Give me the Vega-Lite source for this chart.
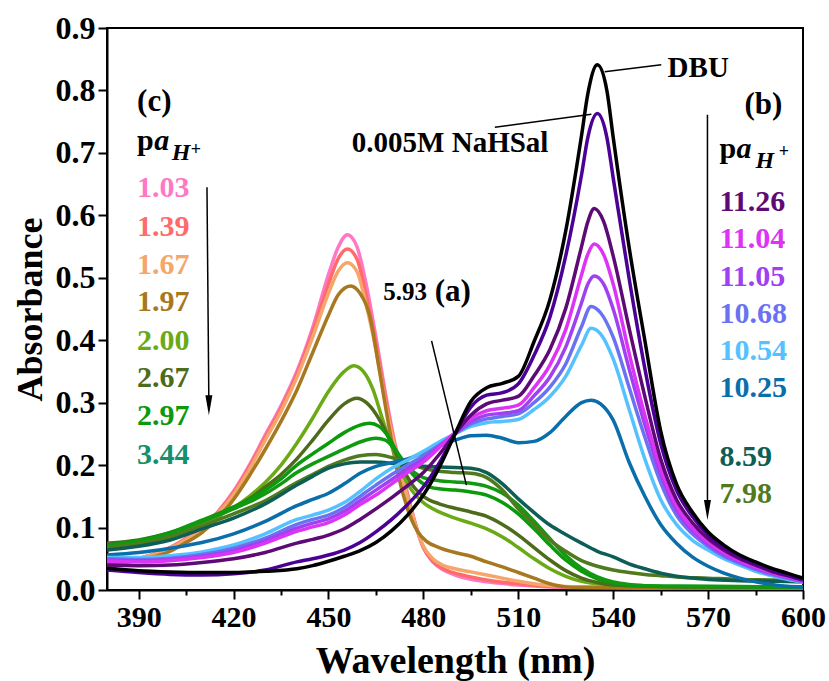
{
"$schema":"https://vega.github.io/schema/vega-lite/v6.json",
"width":696,"height":562,"autosize":"none",
"padding":{"left":107,"top":28,"right":26,"bottom":91},
"background":"white",
"config":{"view":{"stroke":"black","strokeWidth":2},"font":"Times New Roman, Liberation Serif, serif","text":{"font":"Times New Roman, Liberation Serif, serif"}},
"datasets":{
"curves":[
{"s":"1.03","w":380,"a":0.038},{"s":"1.03","w":390,"a":0.05},{"s":"1.03","w":400,"a":0.068},{"s":"1.03","w":405,"a":0.083},{"s":"1.03","w":410,"a":0.1},{"s":"1.03","w":415,"a":0.125},{"s":"1.03","w":420,"a":0.158},{"s":"1.03","w":425,"a":0.2},{"s":"1.03","w":430,"a":0.248},{"s":"1.03","w":435,"a":0.295},{"s":"1.03","w":440,"a":0.35},{"s":"1.03","w":445,"a":0.42},{"s":"1.03","w":450,"a":0.505},{"s":"1.03","w":453,"a":0.548},{"s":"1.03","w":456,"a":0.569},{"s":"1.03","w":459,"a":0.55},{"s":"1.03","w":462,"a":0.488},{"s":"1.03","w":465,"a":0.405},{"s":"1.03","w":468,"a":0.315},{"s":"1.03","w":471,"a":0.235},{"s":"1.03","w":474,"a":0.175},{"s":"1.03","w":477,"a":0.115},{"s":"1.03","w":480,"a":0.068},{"s":"1.03","w":483,"a":0.045},{"s":"1.03","w":486,"a":0.033},{"s":"1.03","w":490,"a":0.024},{"s":"1.03","w":495,"a":0.017},{"s":"1.03","w":500,"a":0.013},{"s":"1.03","w":510,"a":0.008},{"s":"1.03","w":520,"a":0.005},{"s":"1.03","w":530,"a":0.004},{"s":"1.03","w":560,"a":0.003},{"s":"1.03","w":600,"a":0.003},
{"s":"1.39","w":380,"a":0.039},{"s":"1.39","w":390,"a":0.05},{"s":"1.39","w":400,"a":0.068},{"s":"1.39","w":405,"a":0.082},{"s":"1.39","w":410,"a":0.099},{"s":"1.39","w":415,"a":0.124},{"s":"1.39","w":420,"a":0.156},{"s":"1.39","w":425,"a":0.197},{"s":"1.39","w":430,"a":0.244},{"s":"1.39","w":435,"a":0.291},{"s":"1.39","w":440,"a":0.345},{"s":"1.39","w":445,"a":0.413},{"s":"1.39","w":450,"a":0.49},{"s":"1.39","w":453,"a":0.53},{"s":"1.39","w":456,"a":0.546},{"s":"1.39","w":459,"a":0.53},{"s":"1.39","w":462,"a":0.47},{"s":"1.39","w":465,"a":0.395},{"s":"1.39","w":468,"a":0.308},{"s":"1.39","w":471,"a":0.231},{"s":"1.39","w":474,"a":0.171},{"s":"1.39","w":477,"a":0.113},{"s":"1.39","w":480,"a":0.068},{"s":"1.39","w":483,"a":0.046},{"s":"1.39","w":486,"a":0.035},{"s":"1.39","w":490,"a":0.027},{"s":"1.39","w":495,"a":0.021},{"s":"1.39","w":500,"a":0.016},{"s":"1.39","w":510,"a":0.01},{"s":"1.39","w":520,"a":0.006},{"s":"1.39","w":530,"a":0.005},{"s":"1.39","w":560,"a":0.004},{"s":"1.39","w":600,"a":0.004},
{"s":"1.67","w":380,"a":0.04},{"s":"1.67","w":390,"a":0.05},{"s":"1.67","w":400,"a":0.067},{"s":"1.67","w":405,"a":0.081},{"s":"1.67","w":410,"a":0.098},{"s":"1.67","w":415,"a":0.122},{"s":"1.67","w":420,"a":0.153},{"s":"1.67","w":425,"a":0.193},{"s":"1.67","w":430,"a":0.24},{"s":"1.67","w":435,"a":0.286},{"s":"1.67","w":440,"a":0.34},{"s":"1.67","w":445,"a":0.405},{"s":"1.67","w":450,"a":0.475},{"s":"1.67","w":453,"a":0.51},{"s":"1.67","w":456,"a":0.524},{"s":"1.67","w":459,"a":0.51},{"s":"1.67","w":462,"a":0.455},{"s":"1.67","w":465,"a":0.385},{"s":"1.67","w":468,"a":0.3},{"s":"1.67","w":471,"a":0.228},{"s":"1.67","w":474,"a":0.168},{"s":"1.67","w":477,"a":0.112},{"s":"1.67","w":480,"a":0.07},{"s":"1.67","w":483,"a":0.05},{"s":"1.67","w":486,"a":0.04},{"s":"1.67","w":490,"a":0.034},{"s":"1.67","w":495,"a":0.029},{"s":"1.67","w":500,"a":0.024},{"s":"1.67","w":505,"a":0.019},{"s":"1.67","w":510,"a":0.014},{"s":"1.67","w":515,"a":0.01},{"s":"1.67","w":520,"a":0.007},{"s":"1.67","w":530,"a":0.005},{"s":"1.67","w":560,"a":0.004},{"s":"1.67","w":600,"a":0.004},
{"s":"1.97","w":380,"a":0.04},{"s":"1.97","w":390,"a":0.048},{"s":"1.97","w":400,"a":0.062},{"s":"1.97","w":405,"a":0.076},{"s":"1.97","w":410,"a":0.092},{"s":"1.97","w":415,"a":0.115},{"s":"1.97","w":420,"a":0.145},{"s":"1.97","w":425,"a":0.183},{"s":"1.97","w":430,"a":0.225},{"s":"1.97","w":435,"a":0.27},{"s":"1.97","w":440,"a":0.32},{"s":"1.97","w":445,"a":0.38},{"s":"1.97","w":450,"a":0.44},{"s":"1.97","w":453,"a":0.472},{"s":"1.97","w":457,"a":0.487},{"s":"1.97","w":460,"a":0.475},{"s":"1.97","w":463,"a":0.44},{"s":"1.97","w":466,"a":0.355},{"s":"1.97","w":469,"a":0.265},{"s":"1.97","w":472,"a":0.185},{"s":"1.97","w":475,"a":0.13},{"s":"1.97","w":478,"a":0.095},{"s":"1.97","w":481,"a":0.078},{"s":"1.97","w":485,"a":0.068},{"s":"1.97","w":490,"a":0.06},{"s":"1.97","w":495,"a":0.054},{"s":"1.97","w":500,"a":0.045},{"s":"1.97","w":505,"a":0.037},{"s":"1.97","w":510,"a":0.028},{"s":"1.97","w":515,"a":0.019},{"s":"1.97","w":520,"a":0.01},{"s":"1.97","w":525,"a":0.005},{"s":"1.97","w":530,"a":0.004},{"s":"1.97","w":560,"a":0.003},{"s":"1.97","w":600,"a":0.003},
{"s":"2.00","w":380,"a":0.066},{"s":"2.00","w":390,"a":0.075},{"s":"2.00","w":400,"a":0.088},{"s":"2.00","w":410,"a":0.107},{"s":"2.00","w":415,"a":0.118},{"s":"2.00","w":420,"a":0.132},{"s":"2.00","w":425,"a":0.15},{"s":"2.00","w":430,"a":0.172},{"s":"2.00","w":435,"a":0.2},{"s":"2.00","w":440,"a":0.235},{"s":"2.00","w":445,"a":0.275},{"s":"2.00","w":450,"a":0.318},{"s":"2.00","w":455,"a":0.35},{"s":"2.00","w":458,"a":0.359},{"s":"2.00","w":461,"a":0.35},{"s":"2.00","w":464,"a":0.322},{"s":"2.00","w":467,"a":0.275},{"s":"2.00","w":470,"a":0.23},{"s":"2.00","w":473,"a":0.19},{"s":"2.00","w":476,"a":0.162},{"s":"2.00","w":480,"a":0.14},{"s":"2.00","w":485,"a":0.125},{"s":"2.00","w":490,"a":0.115},{"s":"2.00","w":495,"a":0.107},{"s":"2.00","w":500,"a":0.098},{"s":"2.00","w":505,"a":0.085},{"s":"2.00","w":510,"a":0.068},{"s":"2.00","w":515,"a":0.05},{"s":"2.00","w":520,"a":0.034},{"s":"2.00","w":525,"a":0.022},{"s":"2.00","w":530,"a":0.014},{"s":"2.00","w":540,"a":0.008},{"s":"2.00","w":550,"a":0.006},{"s":"2.00","w":560,"a":0.005},{"s":"2.00","w":600,"a":0.005},
{"s":"2.67","w":380,"a":0.075},{"s":"2.67","w":390,"a":0.08},{"s":"2.67","w":400,"a":0.092},{"s":"2.67","w":410,"a":0.11},{"s":"2.67","w":415,"a":0.12},{"s":"2.67","w":420,"a":0.132},{"s":"2.67","w":425,"a":0.146},{"s":"2.67","w":430,"a":0.165},{"s":"2.67","w":435,"a":0.185},{"s":"2.67","w":440,"a":0.21},{"s":"2.67","w":445,"a":0.24},{"s":"2.67","w":450,"a":0.272},{"s":"2.67","w":455,"a":0.298},{"s":"2.67","w":459,"a":0.307},{"s":"2.67","w":462,"a":0.3},{"s":"2.67","w":465,"a":0.282},{"s":"2.67","w":468,"a":0.255},{"s":"2.67","w":471,"a":0.222},{"s":"2.67","w":474,"a":0.19},{"s":"2.67","w":477,"a":0.165},{"s":"2.67","w":480,"a":0.15},{"s":"2.67","w":485,"a":0.138},{"s":"2.67","w":490,"a":0.131},{"s":"2.67","w":495,"a":0.125},{"s":"2.67","w":500,"a":0.118},{"s":"2.67","w":505,"a":0.105},{"s":"2.67","w":510,"a":0.088},{"s":"2.67","w":515,"a":0.068},{"s":"2.67","w":520,"a":0.048},{"s":"2.67","w":525,"a":0.031},{"s":"2.67","w":530,"a":0.019},{"s":"2.67","w":535,"a":0.012},{"s":"2.67","w":540,"a":0.008},{"s":"2.67","w":550,"a":0.006},{"s":"2.67","w":560,"a":0.005},{"s":"2.67","w":600,"a":0.005},
{"s":"2.97","w":380,"a":0.072},{"s":"2.97","w":390,"a":0.079},{"s":"2.97","w":400,"a":0.092},{"s":"2.97","w":410,"a":0.112},{"s":"2.97","w":415,"a":0.122},{"s":"2.97","w":420,"a":0.133},{"s":"2.97","w":425,"a":0.145},{"s":"2.97","w":430,"a":0.16},{"s":"2.97","w":435,"a":0.178},{"s":"2.97","w":440,"a":0.2},{"s":"2.97","w":445,"a":0.218},{"s":"2.97","w":450,"a":0.235},{"s":"2.97","w":455,"a":0.252},{"s":"2.97","w":460,"a":0.264},{"s":"2.97","w":463,"a":0.267},{"s":"2.97","w":466,"a":0.262},{"s":"2.97","w":469,"a":0.245},{"s":"2.97","w":472,"a":0.218},{"s":"2.97","w":475,"a":0.195},{"s":"2.97","w":478,"a":0.178},{"s":"2.97","w":481,"a":0.167},{"s":"2.97","w":485,"a":0.162},{"s":"2.97","w":490,"a":0.16},{"s":"2.97","w":495,"a":0.157},{"s":"2.97","w":500,"a":0.152},{"s":"2.97","w":505,"a":0.14},{"s":"2.97","w":510,"a":0.122},{"s":"2.97","w":515,"a":0.098},{"s":"2.97","w":520,"a":0.072},{"s":"2.97","w":525,"a":0.048},{"s":"2.97","w":530,"a":0.03},{"s":"2.97","w":535,"a":0.018},{"s":"2.97","w":540,"a":0.011},{"s":"2.97","w":545,"a":0.008},{"s":"2.97","w":550,"a":0.007},{"s":"2.97","w":560,"a":0.006},{"s":"2.97","w":600,"a":0.005},
{"s":"5.93","w":380,"a":0.07},{"s":"5.93","w":390,"a":0.077},{"s":"5.93","w":400,"a":0.09},{"s":"5.93","w":410,"a":0.11},{"s":"5.93","w":415,"a":0.12},{"s":"5.93","w":420,"a":0.13},{"s":"5.93","w":425,"a":0.141},{"s":"5.93","w":430,"a":0.154},{"s":"5.93","w":435,"a":0.17},{"s":"5.93","w":440,"a":0.188},{"s":"5.93","w":445,"a":0.202},{"s":"5.93","w":450,"a":0.214},{"s":"5.93","w":455,"a":0.226},{"s":"5.93","w":460,"a":0.237},{"s":"5.93","w":465,"a":0.243},{"s":"5.93","w":468,"a":0.24},{"s":"5.93","w":471,"a":0.225},{"s":"5.93","w":474,"a":0.205},{"s":"5.93","w":477,"a":0.189},{"s":"5.93","w":480,"a":0.18},{"s":"5.93","w":485,"a":0.175},{"s":"5.93","w":490,"a":0.173},{"s":"5.93","w":495,"a":0.171},{"s":"5.93","w":500,"a":0.166},{"s":"5.93","w":505,"a":0.155},{"s":"5.93","w":510,"a":0.136},{"s":"5.93","w":515,"a":0.11},{"s":"5.93","w":520,"a":0.082},{"s":"5.93","w":525,"a":0.055},{"s":"5.93","w":530,"a":0.035},{"s":"5.93","w":535,"a":0.021},{"s":"5.93","w":540,"a":0.013},{"s":"5.93","w":545,"a":0.009},{"s":"5.93","w":550,"a":0.007},{"s":"5.93","w":560,"a":0.006},{"s":"5.93","w":600,"a":0.005},
{"s":"7.98","w":380,"a":0.068},{"s":"7.98","w":390,"a":0.074},{"s":"7.98","w":400,"a":0.085},{"s":"7.98","w":410,"a":0.103},{"s":"7.98","w":420,"a":0.122},{"s":"7.98","w":430,"a":0.143},{"s":"7.98","w":440,"a":0.172},{"s":"7.98","w":445,"a":0.185},{"s":"7.98","w":450,"a":0.198},{"s":"7.98","w":455,"a":0.208},{"s":"7.98","w":460,"a":0.215},{"s":"7.98","w":465,"a":0.217},{"s":"7.98","w":470,"a":0.212},{"s":"7.98","w":475,"a":0.203},{"s":"7.98","w":480,"a":0.195},{"s":"7.98","w":485,"a":0.19},{"s":"7.98","w":490,"a":0.188},{"s":"7.98","w":495,"a":0.187},{"s":"7.98","w":500,"a":0.18},{"s":"7.98","w":505,"a":0.16},{"s":"7.98","w":510,"a":0.13},{"s":"7.98","w":515,"a":0.105},{"s":"7.98","w":520,"a":0.08},{"s":"7.98","w":525,"a":0.062},{"s":"7.98","w":530,"a":0.047},{"s":"7.98","w":535,"a":0.038},{"s":"7.98","w":540,"a":0.032},{"s":"7.98","w":545,"a":0.028},{"s":"7.98","w":550,"a":0.025},{"s":"7.98","w":555,"a":0.023},{"s":"7.98","w":560,"a":0.021},{"s":"7.98","w":570,"a":0.019},{"s":"7.98","w":580,"a":0.017},{"s":"7.98","w":590,"a":0.016},{"s":"7.98","w":600,"a":0.015},
{"s":"8.59","w":380,"a":0.064},{"s":"8.59","w":390,"a":0.07},{"s":"8.59","w":400,"a":0.08},{"s":"8.59","w":410,"a":0.098},{"s":"8.59","w":420,"a":0.115},{"s":"8.59","w":430,"a":0.138},{"s":"8.59","w":440,"a":0.168},{"s":"8.59","w":445,"a":0.182},{"s":"8.59","w":450,"a":0.195},{"s":"8.59","w":455,"a":0.202},{"s":"8.59","w":460,"a":0.205},{"s":"8.59","w":465,"a":0.205},{"s":"8.59","w":470,"a":0.203},{"s":"8.59","w":475,"a":0.2},{"s":"8.59","w":480,"a":0.198},{"s":"8.59","w":485,"a":0.197},{"s":"8.59","w":490,"a":0.196},{"s":"8.59","w":495,"a":0.195},{"s":"8.59","w":500,"a":0.188},{"s":"8.59","w":505,"a":0.17},{"s":"8.59","w":510,"a":0.146},{"s":"8.59","w":515,"a":0.124},{"s":"8.59","w":520,"a":0.104},{"s":"8.59","w":525,"a":0.089},{"s":"8.59","w":530,"a":0.075},{"s":"8.59","w":535,"a":0.062},{"s":"8.59","w":540,"a":0.053},{"s":"8.59","w":545,"a":0.042},{"s":"8.59","w":550,"a":0.034},{"s":"8.59","w":555,"a":0.027},{"s":"8.59","w":560,"a":0.022},{"s":"8.59","w":570,"a":0.017},{"s":"8.59","w":580,"a":0.015},{"s":"8.59","w":590,"a":0.014},{"s":"8.59","w":600,"a":0.013},
{"s":"10.25","w":380,"a":0.056},{"s":"10.25","w":390,"a":0.06},{"s":"10.25","w":400,"a":0.067},{"s":"10.25","w":410,"a":0.076},{"s":"10.25","w":420,"a":0.09},{"s":"10.25","w":430,"a":0.11},{"s":"10.25","w":440,"a":0.135},{"s":"10.25","w":445,"a":0.145},{"s":"10.25","w":450,"a":0.155},{"s":"10.25","w":455,"a":0.17},{"s":"10.25","w":460,"a":0.187},{"s":"10.25","w":465,"a":0.198},{"s":"10.25","w":470,"a":0.204},{"s":"10.25","w":475,"a":0.21},{"s":"10.25","w":480,"a":0.22},{"s":"10.25","w":485,"a":0.231},{"s":"10.25","w":490,"a":0.24},{"s":"10.25","w":495,"a":0.247},{"s":"10.25","w":500,"a":0.248},{"s":"10.25","w":505,"a":0.243},{"s":"10.25","w":510,"a":0.236},{"s":"10.25","w":515,"a":0.238},{"s":"10.25","w":520,"a":0.252},{"s":"10.25","w":525,"a":0.278},{"s":"10.25","w":530,"a":0.3},{"s":"10.25","w":533,"a":0.304},{"s":"10.25","w":536,"a":0.298},{"s":"10.25","w":540,"a":0.272},{"s":"10.25","w":545,"a":0.205},{"s":"10.25","w":550,"a":0.15},{"s":"10.25","w":555,"a":0.105},{"s":"10.25","w":560,"a":0.075},{"s":"10.25","w":565,"a":0.053},{"s":"10.25","w":570,"a":0.038},{"s":"10.25","w":575,"a":0.027},{"s":"10.25","w":580,"a":0.019},{"s":"10.25","w":585,"a":0.013},{"s":"10.25","w":590,"a":0.009},{"s":"10.25","w":595,"a":0.006},{"s":"10.25","w":600,"a":0.005},
{"s":"10.54","w":380,"a":0.052},{"s":"10.54","w":390,"a":0.052},{"s":"10.54","w":400,"a":0.055},{"s":"10.54","w":410,"a":0.061},{"s":"10.54","w":420,"a":0.072},{"s":"10.54","w":430,"a":0.09},{"s":"10.54","w":440,"a":0.113},{"s":"10.54","w":445,"a":0.12},{"s":"10.54","w":450,"a":0.128},{"s":"10.54","w":455,"a":0.14},{"s":"10.54","w":460,"a":0.158},{"s":"10.54","w":465,"a":0.178},{"s":"10.54","w":470,"a":0.195},{"s":"10.54","w":475,"a":0.208},{"s":"10.54","w":480,"a":0.222},{"s":"10.54","w":485,"a":0.237},{"s":"10.54","w":490,"a":0.25},{"s":"10.54","w":495,"a":0.262},{"s":"10.54","w":500,"a":0.268},{"s":"10.54","w":505,"a":0.27},{"s":"10.54","w":510,"a":0.273},{"s":"10.54","w":515,"a":0.289},{"s":"10.54","w":520,"a":0.31},{"s":"10.54","w":525,"a":0.342},{"s":"10.54","w":530,"a":0.392},{"s":"10.54","w":533,"a":0.419},{"s":"10.54","w":536,"a":0.41},{"s":"10.54","w":540,"a":0.37},{"s":"10.54","w":545,"a":0.29},{"s":"10.54","w":550,"a":0.21},{"s":"10.54","w":555,"a":0.145},{"s":"10.54","w":560,"a":0.105},{"s":"10.54","w":565,"a":0.08},{"s":"10.54","w":570,"a":0.064},{"s":"10.54","w":575,"a":0.05},{"s":"10.54","w":580,"a":0.04},{"s":"10.54","w":585,"a":0.03},{"s":"10.54","w":590,"a":0.023},{"s":"10.54","w":595,"a":0.017},{"s":"10.54","w":600,"a":0.012},
{"s":"10.68","w":380,"a":0.05},{"s":"10.68","w":390,"a":0.049},{"s":"10.68","w":400,"a":0.051},{"s":"10.68","w":410,"a":0.057},{"s":"10.68","w":420,"a":0.067},{"s":"10.68","w":430,"a":0.083},{"s":"10.68","w":440,"a":0.105},{"s":"10.68","w":445,"a":0.113},{"s":"10.68","w":450,"a":0.12},{"s":"10.68","w":455,"a":0.132},{"s":"10.68","w":460,"a":0.15},{"s":"10.68","w":465,"a":0.168},{"s":"10.68","w":470,"a":0.185},{"s":"10.68","w":475,"a":0.2},{"s":"10.68","w":480,"a":0.215},{"s":"10.68","w":485,"a":0.232},{"s":"10.68","w":490,"a":0.25},{"s":"10.68","w":495,"a":0.266},{"s":"10.68","w":500,"a":0.274},{"s":"10.68","w":505,"a":0.278},{"s":"10.68","w":510,"a":0.282},{"s":"10.68","w":515,"a":0.3},{"s":"10.68","w":520,"a":0.325},{"s":"10.68","w":525,"a":0.362},{"s":"10.68","w":530,"a":0.422},{"s":"10.68","w":533,"a":0.454},{"s":"10.68","w":536,"a":0.444},{"s":"10.68","w":540,"a":0.405},{"s":"10.68","w":545,"a":0.325},{"s":"10.68","w":550,"a":0.245},{"s":"10.68","w":555,"a":0.172},{"s":"10.68","w":560,"a":0.12},{"s":"10.68","w":565,"a":0.09},{"s":"10.68","w":570,"a":0.07},{"s":"10.68","w":575,"a":0.054},{"s":"10.68","w":580,"a":0.043},{"s":"10.68","w":585,"a":0.033},{"s":"10.68","w":590,"a":0.025},{"s":"10.68","w":595,"a":0.019},{"s":"10.68","w":600,"a":0.013},
{"s":"11.05","w":380,"a":0.048},{"s":"11.05","w":390,"a":0.047},{"s":"11.05","w":400,"a":0.049},{"s":"11.05","w":410,"a":0.054},{"s":"11.05","w":420,"a":0.063},{"s":"11.05","w":430,"a":0.079},{"s":"11.05","w":440,"a":0.099},{"s":"11.05","w":445,"a":0.107},{"s":"11.05","w":450,"a":0.114},{"s":"11.05","w":455,"a":0.126},{"s":"11.05","w":460,"a":0.143},{"s":"11.05","w":465,"a":0.16},{"s":"11.05","w":470,"a":0.177},{"s":"11.05","w":475,"a":0.194},{"s":"11.05","w":480,"a":0.21},{"s":"11.05","w":485,"a":0.23},{"s":"11.05","w":490,"a":0.251},{"s":"11.05","w":495,"a":0.27},{"s":"11.05","w":500,"a":0.28},{"s":"11.05","w":505,"a":0.283},{"s":"11.05","w":510,"a":0.287},{"s":"11.05","w":515,"a":0.311},{"s":"11.05","w":520,"a":0.341},{"s":"11.05","w":525,"a":0.389},{"s":"11.05","w":530,"a":0.46},{"s":"11.05","w":532,"a":0.49},{"s":"11.05","w":534,"a":0.503},{"s":"11.05","w":537,"a":0.49},{"s":"11.05","w":540,"a":0.45},{"s":"11.05","w":545,"a":0.355},{"s":"11.05","w":550,"a":0.265},{"s":"11.05","w":555,"a":0.185},{"s":"11.05","w":560,"a":0.128},{"s":"11.05","w":565,"a":0.095},{"s":"11.05","w":570,"a":0.073},{"s":"11.05","w":575,"a":0.057},{"s":"11.05","w":580,"a":0.045},{"s":"11.05","w":585,"a":0.035},{"s":"11.05","w":590,"a":0.027},{"s":"11.05","w":595,"a":0.02},{"s":"11.05","w":600,"a":0.014},
{"s":"11.04","w":380,"a":0.046},{"s":"11.04","w":390,"a":0.045},{"s":"11.04","w":400,"a":0.047},{"s":"11.04","w":410,"a":0.052},{"s":"11.04","w":420,"a":0.06},{"s":"11.04","w":430,"a":0.075},{"s":"11.04","w":440,"a":0.094},{"s":"11.04","w":445,"a":0.101},{"s":"11.04","w":450,"a":0.108},{"s":"11.04","w":455,"a":0.12},{"s":"11.04","w":460,"a":0.137},{"s":"11.04","w":465,"a":0.152},{"s":"11.04","w":470,"a":0.17},{"s":"11.04","w":475,"a":0.188},{"s":"11.04","w":480,"a":0.205},{"s":"11.04","w":485,"a":0.228},{"s":"11.04","w":490,"a":0.252},{"s":"11.04","w":495,"a":0.275},{"s":"11.04","w":500,"a":0.287},{"s":"11.04","w":505,"a":0.291},{"s":"11.04","w":510,"a":0.296},{"s":"11.04","w":515,"a":0.324},{"s":"11.04","w":520,"a":0.36},{"s":"11.04","w":525,"a":0.417},{"s":"11.04","w":530,"a":0.505},{"s":"11.04","w":532,"a":0.538},{"s":"11.04","w":534,"a":0.554},{"s":"11.04","w":537,"a":0.537},{"s":"11.04","w":540,"a":0.49},{"s":"11.04","w":545,"a":0.38},{"s":"11.04","w":550,"a":0.28},{"s":"11.04","w":555,"a":0.195},{"s":"11.04","w":560,"a":0.135},{"s":"11.04","w":565,"a":0.1},{"s":"11.04","w":570,"a":0.077},{"s":"11.04","w":575,"a":0.06},{"s":"11.04","w":580,"a":0.047},{"s":"11.04","w":585,"a":0.037},{"s":"11.04","w":590,"a":0.028},{"s":"11.04","w":595,"a":0.021},{"s":"11.04","w":600,"a":0.015},
{"s":"11.26","w":380,"a":0.04},{"s":"11.26","w":390,"a":0.039},{"s":"11.26","w":400,"a":0.04},{"s":"11.26","w":410,"a":0.044},{"s":"11.26","w":420,"a":0.05},{"s":"11.26","w":430,"a":0.06},{"s":"11.26","w":440,"a":0.075},{"s":"11.26","w":445,"a":0.081},{"s":"11.26","w":450,"a":0.088},{"s":"11.26","w":455,"a":0.098},{"s":"11.26","w":460,"a":0.113},{"s":"11.26","w":465,"a":0.13},{"s":"11.26","w":470,"a":0.148},{"s":"11.26","w":475,"a":0.167},{"s":"11.26","w":480,"a":0.188},{"s":"11.26","w":485,"a":0.217},{"s":"11.26","w":490,"a":0.25},{"s":"11.26","w":495,"a":0.28},{"s":"11.26","w":500,"a":0.298},{"s":"11.26","w":505,"a":0.304},{"s":"11.26","w":510,"a":0.31},{"s":"11.26","w":515,"a":0.343},{"s":"11.26","w":520,"a":0.385},{"s":"11.26","w":525,"a":0.451},{"s":"11.26","w":530,"a":0.55},{"s":"11.26","w":532,"a":0.59},{"s":"11.26","w":534,"a":0.611},{"s":"11.26","w":537,"a":0.59},{"s":"11.26","w":540,"a":0.535},{"s":"11.26","w":545,"a":0.42},{"s":"11.26","w":550,"a":0.31},{"s":"11.26","w":555,"a":0.21},{"s":"11.26","w":560,"a":0.145},{"s":"11.26","w":565,"a":0.108},{"s":"11.26","w":570,"a":0.082},{"s":"11.26","w":575,"a":0.064},{"s":"11.26","w":580,"a":0.05},{"s":"11.26","w":585,"a":0.04},{"s":"11.26","w":590,"a":0.03},{"s":"11.26","w":595,"a":0.023},{"s":"11.26","w":600,"a":0.016},
{"s":"NaHSal","w":380,"a":0.032},{"s":"NaHSal","w":390,"a":0.028},{"s":"NaHSal","w":400,"a":0.025},{"s":"NaHSal","w":410,"a":0.024},{"s":"NaHSal","w":420,"a":0.026},{"s":"NaHSal","w":430,"a":0.032},{"s":"NaHSal","w":440,"a":0.045},{"s":"NaHSal","w":445,"a":0.05},{"s":"NaHSal","w":450,"a":0.056},{"s":"NaHSal","w":455,"a":0.064},{"s":"NaHSal","w":460,"a":0.076},{"s":"NaHSal","w":465,"a":0.093},{"s":"NaHSal","w":470,"a":0.113},{"s":"NaHSal","w":475,"a":0.137},{"s":"NaHSal","w":480,"a":0.165},{"s":"NaHSal","w":485,"a":0.203},{"s":"NaHSal","w":490,"a":0.25},{"s":"NaHSal","w":495,"a":0.293},{"s":"NaHSal","w":500,"a":0.312},{"s":"NaHSal","w":505,"a":0.316},{"s":"NaHSal","w":510,"a":0.33},{"s":"NaHSal","w":515,"a":0.376},{"s":"NaHSal","w":520,"a":0.437},{"s":"NaHSal","w":525,"a":0.535},{"s":"NaHSal","w":530,"a":0.665},{"s":"NaHSal","w":532,"a":0.725},{"s":"NaHSal","w":535,"a":0.763},{"s":"NaHSal","w":538,"a":0.725},{"s":"NaHSal","w":540,"a":0.66},{"s":"NaHSal","w":545,"a":0.5},{"s":"NaHSal","w":550,"a":0.355},{"s":"NaHSal","w":555,"a":0.235},{"s":"NaHSal","w":560,"a":0.16},{"s":"NaHSal","w":565,"a":0.118},{"s":"NaHSal","w":570,"a":0.088},{"s":"NaHSal","w":575,"a":0.068},{"s":"NaHSal","w":580,"a":0.053},{"s":"NaHSal","w":585,"a":0.042},{"s":"NaHSal","w":590,"a":0.032},{"s":"NaHSal","w":595,"a":0.024},{"s":"NaHSal","w":600,"a":0.017},
{"s":"DBU","w":380,"a":0.035},{"s":"DBU","w":390,"a":0.031},{"s":"DBU","w":400,"a":0.029},{"s":"DBU","w":410,"a":0.028},{"s":"DBU","w":420,"a":0.028},{"s":"DBU","w":430,"a":0.03},{"s":"DBU","w":440,"a":0.034},{"s":"DBU","w":445,"a":0.039},{"s":"DBU","w":450,"a":0.046},{"s":"DBU","w":455,"a":0.054},{"s":"DBU","w":460,"a":0.063},{"s":"DBU","w":465,"a":0.076},{"s":"DBU","w":470,"a":0.095},{"s":"DBU","w":475,"a":0.12},{"s":"DBU","w":480,"a":0.152},{"s":"DBU","w":485,"a":0.196},{"s":"DBU","w":490,"a":0.25},{"s":"DBU","w":495,"a":0.302},{"s":"DBU","w":500,"a":0.324},{"s":"DBU","w":505,"a":0.331},{"s":"DBU","w":510,"a":0.342},{"s":"DBU","w":515,"a":0.398},{"s":"DBU","w":520,"a":0.465},{"s":"DBU","w":525,"a":0.575},{"s":"DBU","w":530,"a":0.728},{"s":"DBU","w":532,"a":0.795},{"s":"DBU","w":535,"a":0.841},{"s":"DBU","w":538,"a":0.8},{"s":"DBU","w":540,"a":0.725},{"s":"DBU","w":545,"a":0.55},{"s":"DBU","w":550,"a":0.4},{"s":"DBU","w":555,"a":0.255},{"s":"DBU","w":560,"a":0.17},{"s":"DBU","w":565,"a":0.125},{"s":"DBU","w":570,"a":0.093},{"s":"DBU","w":575,"a":0.072},{"s":"DBU","w":580,"a":0.056},{"s":"DBU","w":585,"a":0.045},{"s":"DBU","w":590,"a":0.035},{"s":"DBU","w":595,"a":0.027},{"s":"DBU","w":600,"a":0.019}
],
"leg":[
{"s":"1.03","w":389.5,"a":0.643},{"s":"1.39","w":389.5,"a":0.582},{"s":"1.67","w":389.5,"a":0.52},{"s":"1.97","w":389.5,"a":0.461},{"s":"2.00","w":389.5,"a":0.399},{"s":"2.67","w":389.5,"a":0.34},{"s":"2.97","w":389.5,"a":0.278},{"s":"3.44","w":389.5,"a":0.216},
{"s":"11.26","w":573.6,"a":0.622},{"s":"11.04","w":573.6,"a":0.562},{"s":"11.05","w":573.6,"a":0.502},{"s":"10.68","w":573.6,"a":0.442},{"s":"10.54","w":573.6,"a":0.382},{"s":"10.25","w":573.6,"a":0.323},{"s":"8.59","w":573.6,"a":0.213},{"s":"7.98","w":573.6,"a":0.154}
],
"notes":[
{"t":"DBU","w":557.2,"a":0.836},{"t":"0.005M NaHSal","w":457.4,"a":0.716}
],
"heads":[{"t":"(c)","w":389.5,"a":0.782},{"t":"(b)","w":581.5,"a":0.777},{"t":"(a)","w":483.6,"a":0.478}],
"small":[{"t":"5.93","w":467.3,"a":0.478}],
"pLetter":[{"t":"p","w":389.5,"a":0.705},{"t":"p","w":573.6,"a":0.692}],
"aLetter":[{"t":"a","w":394.9,"a":0.705},{"t":"a","w":579.0,"a":0.692}],
"hLetter":[{"t":"H","w":400.5,"a":0.689},{"t":"H","w":585.0,"a":0.676}],
"plus":[{"t":"+","w":406.5,"a":0.697},{"t":"+","w":592.3,"a":0.693}],
"rules":[
{"w":537.3,"a":0.83,"w2":555.2,"a2":0.841},
{"w":502.6,"a":0.741,"w2":533.1,"a2":0.762},
{"w":482.6,"a":0.399,"w2":493.6,"a2":0.168},
{"w":411.6,"a":0.645,"w2":412.2,"a2":0.3},
{"w":569.8,"a":0.761,"w2":569.8,"a2":0.13}
],
"arrowheads":[{"w":412.2,"a":0.296},{"w":569.8,"a":0.128}]
},
"layer":[
{"data":{"name":"curves"},
 "mark":{"type":"line","interpolate":"monotone","strokeWidth":3.5,"clip":true},
 "encoding":{
  "x":{"field":"w","type":"quantitative","scale":{"domain":[380,600],"nice":false,"zero":false},
   "axis":{"values":[390,405,420,435,450,465,480,495,510,525,540,555,570,585,600],
    "labelExpr":"datum.value % 30 === 0 ? datum.label : ''","format":"d","grid":false,
    "domainColor":"black","domainWidth":2,"tickColor":"black","tickWidth":2,
    "tickSize":{"condition":{"test":"datum.value % 30 === 0","value":9},"value":5},
    "labelFont":"Times New Roman, Liberation Serif, serif","labelFontWeight":"bold","labelFontSize":30,"labelColor":"black","labelPadding":3,
    "labelFlush":false,"labelOverlap":false,
    "title":"Wavelength (nm)","titleFont":"Times New Roman, Liberation Serif, serif","titleFontWeight":"bold","titleFontSize":38,"titleColor":"black","titlePadding":10}},
  "y":{"field":"a","type":"quantitative","scale":{"domain":[0,0.9],"nice":false,"zero":false},
   "axis":{"values":[0,0.05,0.1,0.15,0.2,0.25,0.3,0.35,0.4,0.45,0.5,0.55,0.6,0.65,0.7,0.75,0.8,0.85,0.9],
    "labelExpr":"round(datum.value*100) % 10 === 0 ? format(datum.value, '.1f') : ''","grid":false,
    "domainColor":"black","domainWidth":2,"tickColor":"black","tickWidth":2,
    "tickSize":{"condition":{"test":"round(datum.value*100) % 10 === 0","value":9},"value":5},
    "labelFont":"Times New Roman, Liberation Serif, serif","labelFontWeight":"bold","labelFontSize":32,"labelColor":"black","labelPadding":3,
    "labelFlush":false,"labelOverlap":false,
    "title":"Absorbance","titleFont":"Times New Roman, Liberation Serif, serif","titleFontWeight":"bold","titleFontSize":36,"titleColor":"black","titlePadding":6}},
  "color":{"field":"s","type":"nominal","legend":null,
   "scale":{"domain":["DBU","NaHSal","11.26","11.04","11.05","10.68","10.54","10.25","8.59","7.98","5.93","3.44","2.97","2.67","2.00","1.97","1.67","1.39","1.03"],
    "range":["#000000","#4B0096","#5E0A75","#DD33F5","#A040F0","#6A72F2","#55C2FF","#0A6EAA","#0D5E55","#4F7A1E","#119A11","#14906C","#0A9A0A","#4D6B1A","#6AAA14","#A87820","#F5A66A","#FF6B6B","#FF78C4"]}}
 }},
{"data":{"name":"rules"},"mark":{"type":"rule","color":"black","strokeWidth":1.5},
 "encoding":{"x":{"field":"w","type":"quantitative"},"y":{"field":"a","type":"quantitative"},"x2":{"field":"w2"},"y2":{"field":"a2"}}},
{"data":{"name":"arrowheads"},"mark":{"type":"point","filled":true,"shape":"M-0.35,-1L0,1L0.35,-1Z","size":400,"color":"black","opacity":1,"strokeWidth":0},
 "encoding":{"x":{"field":"w","type":"quantitative"},"y":{"field":"a","type":"quantitative"}}},
{"data":{"name":"leg"},"mark":{"type":"text","align":"left","baseline":"middle","font":"Times New Roman, Liberation Serif, serif","fontWeight":"bold","fontSize":30},
 "encoding":{"x":{"field":"w","type":"quantitative"},"y":{"field":"a","type":"quantitative"},"text":{"field":"s"},
  "color":{"field":"s","type":"nominal","legend":null,
   "scale":{"domain":["DBU","NaHSal","11.26","11.04","11.05","10.68","10.54","10.25","8.59","7.98","5.93","3.44","2.97","2.67","2.00","1.97","1.67","1.39","1.03"],
    "range":["#000000","#4B0096","#5E0A75","#DD33F5","#A040F0","#6A72F2","#55C2FF","#0A6EAA","#0D5E55","#4F7A1E","#119A11","#14906C","#0A9A0A","#4D6B1A","#6AAA14","#A87820","#F5A66A","#FF6B6B","#FF78C4"]}}}},
{"data":{"name":"notes"},"mark":{"type":"text","align":"left","baseline":"middle","font":"Times New Roman, Liberation Serif, serif","fontWeight":"bold","fontSize":29,"color":"black"},
 "encoding":{"x":{"field":"w","type":"quantitative"},"y":{"field":"a","type":"quantitative"},"text":{"field":"t"}}},
{"data":{"name":"heads"},"mark":{"type":"text","align":"left","baseline":"middle","font":"Times New Roman, Liberation Serif, serif","fontWeight":"bold","fontSize":31,"color":"black"},
 "encoding":{"x":{"field":"w","type":"quantitative"},"y":{"field":"a","type":"quantitative"},"text":{"field":"t"}}},
{"data":{"name":"small"},"mark":{"type":"text","align":"left","baseline":"middle","font":"Times New Roman, Liberation Serif, serif","fontWeight":"bold","fontSize":25,"color":"black"},
 "encoding":{"x":{"field":"w","type":"quantitative"},"y":{"field":"a","type":"quantitative"},"text":{"field":"t"}}},
{"data":{"name":"pLetter"},"mark":{"type":"text","align":"left","baseline":"alphabetic","font":"Times New Roman, Liberation Serif, serif","fontWeight":"bold","fontSize":30,"color":"black"},
 "encoding":{"x":{"field":"w","type":"quantitative"},"y":{"field":"a","type":"quantitative"},"text":{"field":"t"}}},
{"data":{"name":"aLetter"},"mark":{"type":"text","align":"left","baseline":"alphabetic","font":"Times New Roman, Liberation Serif, serif","fontWeight":"bold","fontStyle":"italic","fontSize":30,"color":"black"},
 "encoding":{"x":{"field":"w","type":"quantitative"},"y":{"field":"a","type":"quantitative"},"text":{"field":"t"}}},
{"data":{"name":"hLetter"},"mark":{"type":"text","align":"left","baseline":"alphabetic","font":"Times New Roman, Liberation Serif, serif","fontWeight":"bold","fontStyle":"italic","fontSize":24,"color":"black"},
 "encoding":{"x":{"field":"w","type":"quantitative"},"y":{"field":"a","type":"quantitative"},"text":{"field":"t"}}},
{"data":{"name":"plus"},"mark":{"type":"text","align":"left","baseline":"alphabetic","font":"Times New Roman, Liberation Serif, serif","fontWeight":"bold","fontSize":18,"color":"black"},
 "encoding":{"x":{"field":"w","type":"quantitative"},"y":{"field":"a","type":"quantitative"},"text":{"field":"t"}}}
]
}
